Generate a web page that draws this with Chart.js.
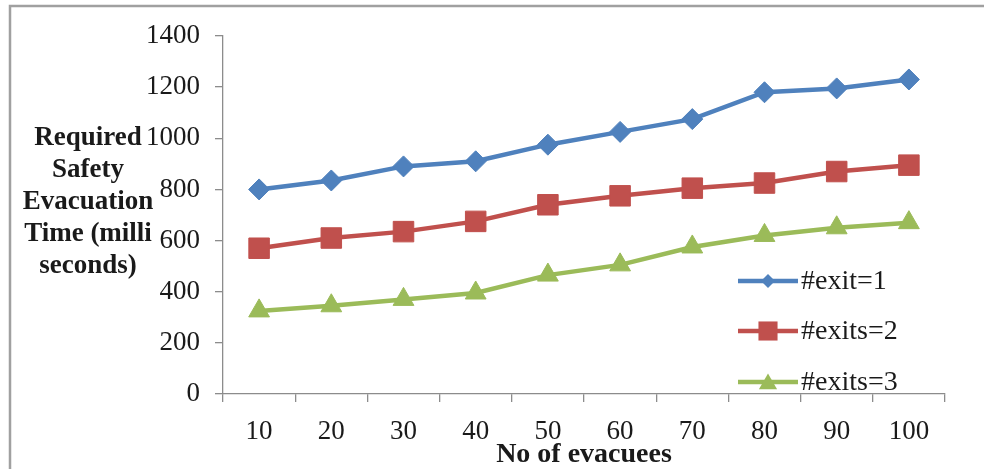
<!DOCTYPE html>
<html>
<head>
<meta charset="utf-8">
<script src="https://cdn.jsdelivr.net/npm/chart.js@4/dist/chart.umd.min.js"></script>
<style>
  html, body { margin: 0; padding: 0; background: #ffffff; }
  #wrap { width: 984px; height: 469px; position: relative; }
</style>
</head>
<body>
<div id="wrap"><canvas id="chart" width="984" height="469"></canvas></div>
<script>
// Number of evacuees (x categories)
const categories = ['10', '20', '30', '40', '50', '60', '70', '80', '90', '100'];

// Required safety evacuation time (milliseconds) per number of exits
const exit1  = [800, 835, 890, 910, 975, 1025, 1075, 1180, 1195, 1230];
const exits2 = [570, 610, 635, 675, 740, 775, 805, 825, 870, 895];
const exits3 = [325, 345, 370, 395, 465, 505, 575, 620, 650, 670];

const seriesNames = ['#exit=1', '#exits=2', '#exits=3'];
const yTickValues = [0, 200, 400, 600, 800, 1000, 1200, 1400];
const yTitleLines = ['Required', 'Safety', 'Evacuation', 'Time (milli', 'seconds)'];
const xTitle = 'No of evacuees';

const SERIF = "'Liberation Serif', 'Times New Roman', serif";
const AXIS = '#8c8c8c';
const TEXT = '#1a1a1a';

const colors = ['#4f81bd', '#c0504d', '#9bbb59'];
const styles = ['rectRot', 'rect', 'triangle'];
const radii = [10.5, 14.5, 12];
const legendRadii = [7, 13.5, 10.5];

// Frame lines along the top and left edges, drawn behind everything
const framePlugin = {
  id: 'frame',
  beforeDraw(chart) {
    const ctx = chart.ctx;
    ctx.save();
    ctx.fillStyle = '#ffffff';
    ctx.fillRect(0, 0, chart.width, chart.height);
    ctx.strokeStyle = '#a0a0a0';
    ctx.lineWidth = 2.5;
    ctx.beginPath();
    ctx.moveTo(10, chart.height);
    ctx.lineTo(10, 6);
    ctx.lineTo(chart.width, 6);
    ctx.stroke();
    ctx.restore();
  }
};

// Draws one marker shape centred at (x, y)
function marker(ctx, style, x, y, r) {
  ctx.beginPath();
  if (style === 'rectRot') {
    ctx.moveTo(x - r, y); ctx.lineTo(x, y - r); ctx.lineTo(x + r, y); ctx.lineTo(x, y + r);
  } else if (style === 'rect') {
    const s = Math.SQRT1_2 * r;
    ctx.rect(x - s, y - s, 2 * s, 2 * s);
  } else {
    ctx.moveTo(x, y - r);
    ctx.lineTo(x + r * Math.sin(2 * Math.PI / 3), y + r * 0.5);
    ctx.lineTo(x - r * Math.sin(2 * Math.PI / 3), y + r * 0.5);
  }
  ctx.closePath();
  ctx.fill();
}

// Horizontal multi-line y title and in-plot legend
const textPlugin = {
  id: 'texts',
  afterDraw(chart) {
    const ctx = chart.ctx;
    ctx.save();
    ctx.fillStyle = TEXT;
    ctx.font = "bold 27px " + SERIF;
    ctx.textAlign = 'center';
    ctx.textBaseline = 'middle';
    yTitleLines.forEach((line, i) => ctx.fillText(line, 88, 138 + i * 32));

    const rowsY = [281, 331, 382];
    chart.data.datasets.forEach((ds, i) => {
      const y = rowsY[i];
      ctx.strokeStyle = colors[i];
      ctx.lineWidth = 4.5;
      ctx.beginPath();
      ctx.moveTo(738, y);
      ctx.lineTo(798, y);
      ctx.stroke();
      ctx.fillStyle = colors[i];
      marker(ctx, styles[i], 768, i === 2 ? y + 2 : y, legendRadii[i]);
      ctx.fillStyle = TEXT;
      ctx.font = "28px " + SERIF;
      ctx.textAlign = 'left';
      ctx.textBaseline = 'middle';
      ctx.fillText(ds.label, 801, y + 1);
    });
    ctx.restore();
  }
};

const seriesValues = [exit1, exits2, exits3];

new Chart(document.getElementById('chart'), {
  type: 'line',
  data: {
    labels: categories,
    datasets: seriesValues.map((vals, i) => ({
      label: seriesNames[i],
      data: vals,
      borderColor: colors[i],
      backgroundColor: colors[i],
      borderWidth: 4.5,
      tension: 0,
      pointStyle: styles[i],
      pointRadius: radii[i],
      pointBorderWidth: 1,
      pointBorderColor: colors[i],
      pointBackgroundColor: colors[i]
    }))
  },
  options: {
    responsive: false,
    animation: false,
    devicePixelRatio: 1,
    layout: { padding: { top: 36, right: 39, left: 0, bottom: 0 } },
    plugins: {
      legend: { display: false },
      tooltip: { enabled: false }
    },
    scales: {
      x: {
        type: 'category',
        offset: true,
        grid: { offset: true, drawOnChartArea: false, drawTicks: true, tickLength: 8, color: AXIS, lineWidth: 1.3 },
        border: { display: true, color: AXIS, width: 1.3 },
        ticks: { color: TEXT, font: { family: SERIF, size: 27 }, padding: 14, maxRotation: 0 },
        title: { display: true, text: xTitle, color: TEXT, font: { family: SERIF, size: 28, weight: 'bold' }, padding: { top: 0, bottom: -3 } },
        afterFit(scale) { scale.height = 75; }
      },
      y: {
        min: 0,
        max: 1400,
        afterBuildTicks(scale) { scale.ticks = yTickValues.map(v => ({ value: v })); },
        grid: { drawOnChartArea: false, drawTicks: true, tickLength: 8, color: AXIS, lineWidth: 1.3 },
        border: { display: true, color: AXIS, width: 1.3 },
        ticks: { color: TEXT, font: { family: SERIF, size: 27 }, padding: 15, callback: v => String(v) },
        afterFit(scale) { scale.width = 223; }
      }
    }
  },
  plugins: [framePlugin, textPlugin]
});
</script>
</body>
</html>
